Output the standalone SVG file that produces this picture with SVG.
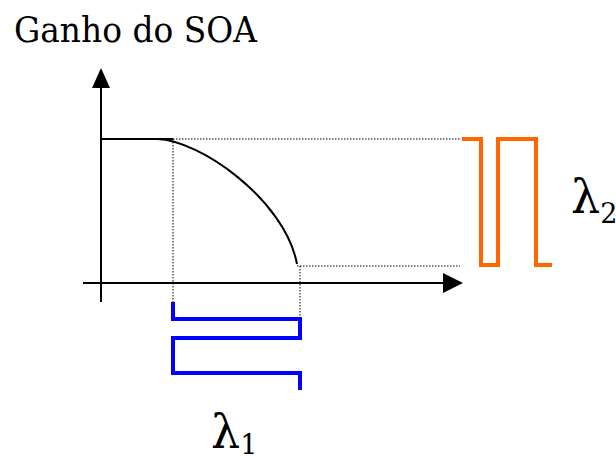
<svg xmlns="http://www.w3.org/2000/svg" width="616" height="460" viewBox="0 0 616 460">
<style>
text{font-family:'DejaVu Serif',serif;fill:#000}
.lam{font-size:46px}
.sub{font-size:27px}
.ax{stroke:#000;stroke-width:2;fill:none}
.dot{stroke:#000;stroke-width:1;stroke-dasharray:1.5,1.5;fill:none}
.sol{stroke:#000;stroke-width:2;fill:none}
.blue{stroke:#0000ff;stroke-width:4;fill:none;stroke-linejoin:miter}
.orng{stroke:#ff6600;stroke-width:4;fill:none;stroke-linejoin:miter}
</style>
<rect width="616" height="460" fill="#fff"/>
<g id="title"><text x="14" y="42" font-size="36" textLength="243" lengthAdjust="spacingAndGlyphs">Ganho do SOA</text></g>
<g id="axes">
<line class="ax" x1="101" y1="302" x2="101" y2="86"/>
<polygon points="101,68 92,88 110,88" fill="#000"/>
<line class="ax" x1="83" y1="283" x2="445" y2="283"/>
<polygon points="463,283 443,273 443,293" fill="#000"/>
</g>
<g id="gain-curve">
<line class="sol" x1="101" y1="139" x2="173" y2="139"/>
<path class="sol" d="M157,139 C200,140 285,200 297,264"/>
</g>
<g id="guides">
<line class="dot" x1="173" y1="139" x2="460" y2="139"/>
<line class="dot" x1="173" y1="139" x2="173" y2="302"/>
<line class="dot" x1="297" y1="266" x2="460" y2="266"/>
<line class="dot" x1="300" y1="266" x2="300" y2="319"/>
</g>
<g id="signal-lambda1">
<path class="blue" d="M173,302 V319 H300 V338 H173 V373 H300 V390"/>
</g>
<g id="signal-lambda2">
<path class="orng" d="M462,139 H481 V265 H498 V139 H536 V265 H552"/>
</g>
<g id="label-lambda1"><text class="lam" x="211" y="448">λ<tspan class="sub" dy="6">1</tspan></text></g>
<g id="label-lambda2"><text class="lam" x="571" y="213">λ<tspan class="sub" dy="10">2</tspan></text></g>
</svg>
